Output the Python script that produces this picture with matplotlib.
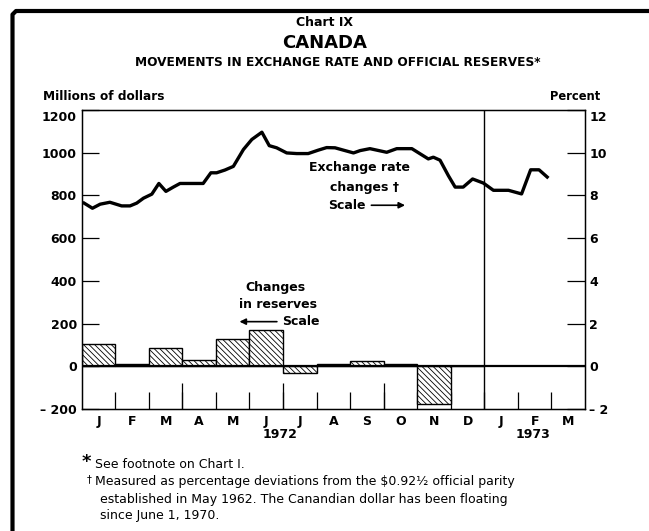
import numpy as np
import matplotlib.pyplot as plt
import matplotlib.transforms as mtransforms
from matplotlib.lines import Line2D

plt.rcParams['font.family'] = ['DejaVu Sans']
plt.rcParams['hatch.linewidth'] = 0.6
plt.rcParams['hatch.color'] = 'black'

# Datos: cambios mensuales de reservas (millones de dolares), ene-dic 1972
reserve_months = np.arange(12)
reserve_change = [105, 12, 85, 30, 128, 172, -32, 10, 24, 10, -175, 0]

# Tipo de cambio (% sobre la paridad), posicion en meses desde ene 1972
rate_month = [0.03, 0.32, 0.55, 0.84, 1.19, 1.44, 1.64, 1.84, 2.09, 2.30,
              2.51, 2.73, 2.93, 3.28, 3.62, 3.85, 4.02, 4.27, 4.52, 4.82,
              5.07, 5.37, 5.59, 5.81, 6.11, 6.41, 6.75, 7.05, 7.30, 7.55,
              7.80, 8.10, 8.30, 8.59, 9.09, 9.39, 9.84, 10.33, 10.48, 10.68,
              10.93, 11.13, 11.37, 11.65, 11.97, 12.27, 12.72, 13.11, 13.38,
              13.63, 13.91]
rate_pct = [7.68, 7.40, 7.59, 7.68, 7.51, 7.51, 7.64, 7.87, 8.06, 8.56,
            8.19, 8.39, 8.56, 8.56, 8.56, 9.06, 9.06, 9.19, 9.36, 10.15,
            10.62, 10.96, 10.33, 10.23, 9.99, 9.96, 9.96, 10.12, 10.24, 10.23,
            10.12, 9.99, 10.10, 10.19, 10.02, 10.19, 10.19, 9.71, 9.79, 9.65,
            8.92, 8.39, 8.39, 8.77, 8.58, 8.24, 8.24, 8.07, 9.20,
            9.20, 8.81]

month_labels = ['J', 'F', 'M', 'A', 'M', 'J', 'J', 'A', 'S', 'O', 'N', 'D',
                'J', 'F', 'M']
left_ticks = [-200, 0, 200, 400, 600, 800, 1000, 1200]
left_labels = ['\u2013 200', '0', '200', '400', '600', '800', '1000', '1200']
right_ticks = [-2, 0, 2, 4, 6, 8, 10, 12]
right_labels = ['\u2013 2', '0', '2', '4', '6', '8', '10', '12']

W, H = 649, 531
fig = plt.figure(figsize=(W / 100, H / 100), dpi=100)
ax = fig.add_axes([81.7 / W, 1 - 409 / H, 503.3 / W, 299 / H])

ax.bar(reserve_months, reserve_change, width=1, align='edge',
       facecolor='white', edgecolor='black', linewidth=1.0,
       hatch='\\\\\\\\\\\\', zorder=2)
ax.axhline(0, color='black', linewidth=1.6, zorder=3)
ax.axvline(12, color='black', linewidth=1.0, zorder=3)

ax.set_xlim(0, 15)
ax.set_ylim(-200, 1200)
ax.set_yticks(left_ticks)
ax.set_yticklabels(left_labels, fontsize=9, fontweight='bold')
ax.tick_params(axis='y', direction='in', length=12, width=0.9, pad=3.5)

# meses: etiquetas en el centro, marcas en los limites
ax.set_xticks(np.arange(15) + 0.5)
ax.set_xticklabels(month_labels, fontsize=9, fontweight='bold')
ax.set_xticks(np.arange(1, 15), minor=True)
ax.tick_params(axis='x', which='major', length=0, pad=4)
ax.tick_params(axis='x', which='minor', direction='in', length=12, width=0.9)
ax.vlines([3, 6, 9], 0, 26 / 299, transform=ax.get_xaxis_transform(),
          color='black', linewidth=0.9)
for s in ax.spines.values():
    s.set_linewidth(1.0)

ax2 = ax.twinx()
ax2.plot(rate_month, rate_pct, color='black', linewidth=2.4,
         solid_joinstyle='round', solid_capstyle='butt')
ax2.set_ylim(-2, 12)
ax2.set_yticks(right_ticks)
ax2.set_yticklabels(right_labels, fontsize=9, fontweight='bold')
ax2.tick_params(axis='y', direction='in', length=13, width=0.9, pad=3)

# etiquetas superiores un poco mas abajo, como en el original
down = mtransforms.ScaledTranslation(0, -6 / 100, fig.dpi_scale_trans)
for lab in (ax.get_yticklabels()[-1], ax2.get_yticklabels()[-1]):
    lab.set_transform(lab.get_transform() + down)

# anotaciones
ax.text(8.27, 929, 'Exchange rate', ha='center', va='center', fontsize=9,
        fontweight='bold')
ax.text(8.42, 839, 'changes \u2020', ha='center', va='center', fontsize=9,
        fontweight='bold')
ax.text(8.45, 754, 'Scale', ha='right', va='center', fontsize=9,
        fontweight='bold')
ax.annotate('', xy=(9.72, 754), xytext=(8.55, 754),
            arrowprops=dict(arrowstyle='-|>', color='black', lw=1.2,
                            mutation_scale=9))
ax.text(5.76, 368, 'Changes', ha='center', va='center', fontsize=9,
        fontweight='bold')
ax.text(5.84, 288, 'in reserves', ha='center', va='center', fontsize=9,
        fontweight='bold')
ax.text(5.97, 209, 'Scale', ha='left', va='center', fontsize=9,
        fontweight='bold')
ax.annotate('', xy=(4.62, 209), xytext=(5.9, 209),
            arrowprops=dict(arrowstyle='-|>', color='black', lw=1.2,
                            mutation_scale=9))


def fy(py):
    return 1 - py / H


fig.text(280 / W, fy(435), '1972', ha='center', va='center', fontsize=9,
         fontweight='bold')
fig.text(533 / W, fy(435), '1973', ha='center', va='center', fontsize=9,
         fontweight='bold')

# titulos
fig.text(325 / W, fy(23), 'Chart IX', ha='center', va='center', fontsize=9,
         fontweight='bold')
fig.text(325 / W, fy(43.5), 'CANADA', ha='center', va='center', fontsize=13,
         fontweight='bold')
fig.text(338 / W, fy(62), 'MOVEMENTS IN EXCHANGE RATE AND OFFICIAL RESERVES*',
         ha='center', va='center', fontsize=8.7, fontweight='bold')
fig.text(43 / W, fy(97), 'Millions of dollars', ha='left', va='center',
         fontsize=8.7, fontweight='bold')
fig.text(600 / W, fy(97), 'Percent', ha='right', va='center',
         fontsize=8.3, fontweight='bold')

# notas
fig.text(82 / W, fy(462), '*', ha='left', va='center', fontsize=13,
         fontweight='bold')
fig.text(95 / W, fy(465), 'See footnote on Chart I.', ha='left',
         va='center', fontsize=9)
fig.text(87 / W, fy(479), '\u2020', ha='left', va='center', fontsize=7)
fig.text(95 / W, fy(481),
         'Measured as percentage deviations from the $0.92\u00bd official parity',
         ha='left', va='center', fontsize=9)
fig.text(100 / W, fy(499),
         'established in May 1962. The Canandian dollar has been floating',
         ha='left', va='center', fontsize=9)
fig.text(100 / W, fy(516), 'since June 1, 1970.', ha='left', va='center',
         fontsize=9)

# marco
fig.add_artist(Line2D([12.5 / W, 12.5 / W, 16 / W, 1.0],
                      [0.0, fy(14.5), fy(11), fy(11)],
                      transform=fig.transFigure, color='black', linewidth=3,
                      solid_joinstyle='round'))

fig.savefig('out.png', dpi=100)
